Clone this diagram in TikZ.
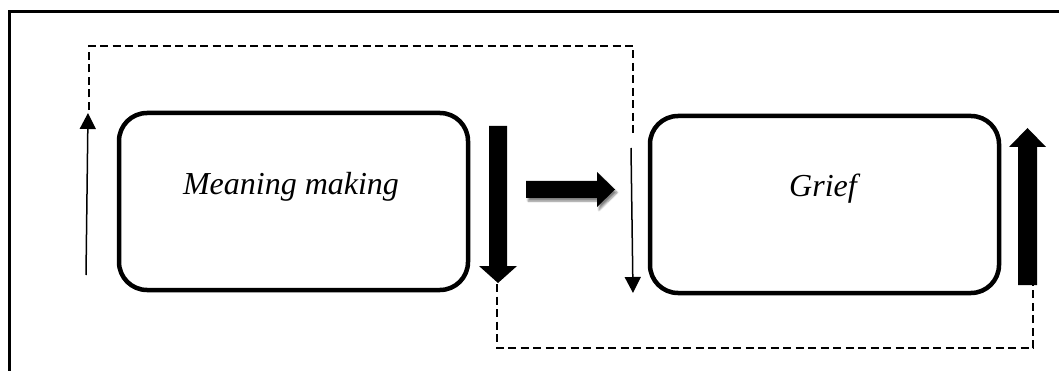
\documentclass[tikz,border=0pt]{standalone}
\usepackage{fontspec}
\setmainfont{Liberation Serif}
\usetikzlibrary{arrows.meta,shadows.blur}

\tikzset{
  phase/.style={draw, rectangle, rounded corners=28pt, line width=4.5pt,
    minimum width=349pt, minimum height=177pt},
  phasetext/.style={anchor=base, font=\fontsize{32}{38}\selectfont\itshape},
  loop/.style={draw, line width=2.2pt, dash pattern=on 8pt off 4.5pt},
  thin/.style={draw, line width=1.5pt, -{Triangle[length=16pt,width=16pt]}},
  blockarrow/.style={fill=black}
}

\begin{document}
\begin{tikzpicture}[x=1pt,y=-1pt]
\useasboundingbox (0,0) rectangle (1059,371);

% outer frame
\draw[line width=3pt] (9,371) -- (9,12) -- (1059,12);

\node[phase] (mm) at (293.5,201.5) {};
\node[phase] (gr) at (824.5,204.5) {};
\node[phasetext] (mmtext) at (291,195) {Meaning making};
\node[phasetext] (grtext) at (823,197) {Grief};

% thin arrows
\coordinate (a1) at (86,275);
\coordinate (a2) at (88,113);
\coordinate (b1) at (631,148);
\coordinate (b2) at (633,293);
\path[thin] (a1) -- (a2);
\path[thin] (b1) -- (b2);

% dashed loops
\coordinate (c1) at (89,110);
\coordinate (c2) at (633,137);
\coordinate (d1) at (497,284);
\coordinate (d2) at (1033,285);
\path[loop] (c1) |- (89,46) -| (c2);
\path[loop] (d1) |- (497,348) -| (d2);

% block arrows
\fill[blockarrow] (489,126) -- (507,126) -- (507,266) -- (517,266) -- (498,283)
  -- (479,266) -- (489,266) -- cycle;
\fill[blockarrow] (1018,285) -- (1037,285) -- (1037,147) -- (1046,147) -- (1027.5,128)
  -- (1009,147) -- (1018,147) -- cycle;
\fill[blockarrow, blur shadow={shadow xshift=2pt, shadow yshift=-3pt,
  shadow blur steps=6, shadow opacity=50}]
  (526,181) -- (597,181) -- (597,172) -- (615,189.5) -- (597,207) -- (597,198)
  -- (526,198) -- cycle;
\end{tikzpicture}
\end{document}
